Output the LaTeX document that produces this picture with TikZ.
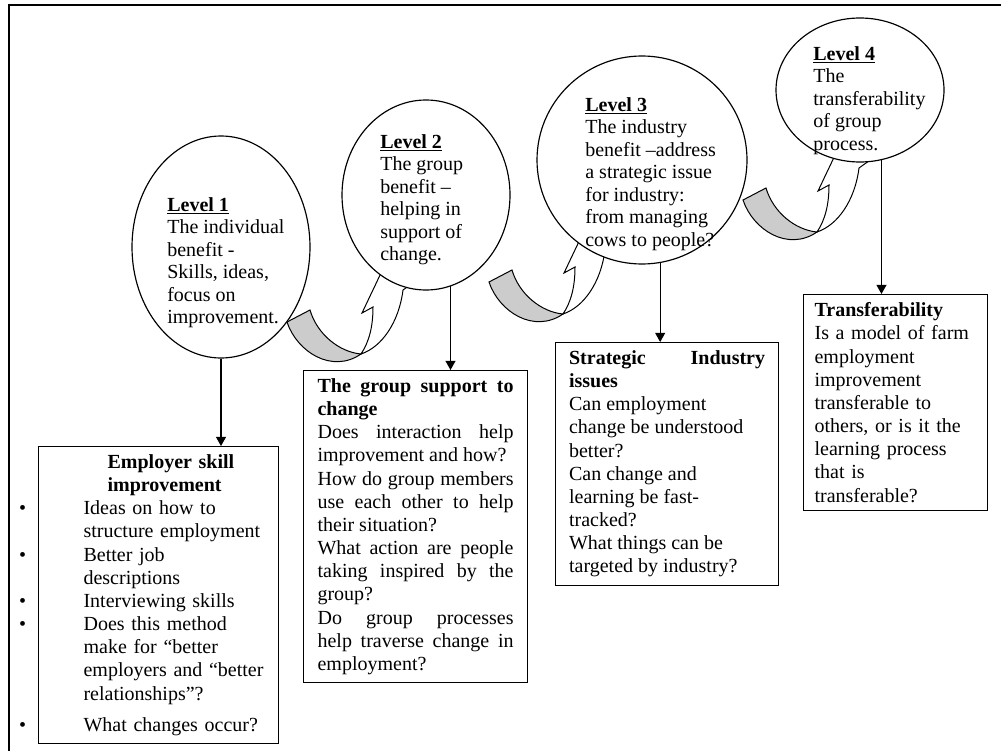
\documentclass[tikz,border=0pt]{standalone}
\usepackage{fontspec}
\setmainfont{Liberation Serif}
\usepackage{tikz}
\usetikzlibrary{arrows.meta,shapes.geometric}
\definecolor{BandGray}{HTML}{CCCCCC}
\newdimen\pxu \pxu=0.6pt
\newcommand{\bul}{\leavevmode\llap{\textbullet\hspace{57.5\pxu}}}
\newcommand{\bentarrow}[2]{%
  \begin{scope}[shift={(#1,#2)}]
    \path[backband] (0,0) .. controls (10,30) and (45,52) .. (74,32)
      .. controls (52,30) and (30,12) .. (23,-12) -- cycle;
    \path[frontband] (74,32) .. controls (82,20) and (86,5) .. (86,-15)
      -- (75,-9) -- (104,-70) -- (130,-42) -- (116,-32)
      .. controls (112,0) and (95,25) .. (74,32) -- cycle;
  \end{scope}}

\begin{document}
\begin{tikzpicture}[x=0.6pt, y=-0.6pt,
  lvl/.style={ellipse, draw, fill=white, line width=0.7pt, inner sep=0pt},
  lvltext/.style={anchor=north west, align=left, inner sep=0pt,
                  font=\fontsize{12}{13.5}\selectfont},
  qbox/.style={rectangle, draw, fill=white, line width=0.7pt, anchor=north west,
               inner ysep=8\pxu, font=\fontsize{12}{13.9}\selectfont,
               execute at begin node={\parindent=0pt}},
  downarrow/.style={line width=0.7pt, -{Triangle[width=6pt,length=5.5pt]}},
  backband/.style={draw, fill=BandGray, line width=0.6pt},
  frontband/.style={draw, fill=white, line width=0.6pt}
]
  \useasboundingbox (0,0) rectangle (1001,751);
  \draw[line width=1.2pt] (1001,5) -- (9,5) -- (9,751);

  \bentarrow{287}{322}
  \bentarrow{489}{282}
  \bentarrow{743}{200}

  \node[lvl, minimum width=178\pxu, minimum height=222\pxu] (l1) at (221,247) {};
  \node[lvl, minimum width=168\pxu, minimum height=190\pxu] (l2) at (426,195) {};
  \node[lvl, minimum width=210\pxu, minimum height=208\pxu] (l3) at (642,160) {};
  \node[lvl, minimum width=168\pxu, minimum height=144\pxu] (l4) at (860,90) {};

  \node[lvltext] (l1t) at (167,197) {\underline{\textbf{Level 1}}\\
    The individual\\ benefit -\\ Skills, ideas,\\ focus on\\ improvement.};
  \node[lvltext] (l2t) at (380,134) {\underline{\textbf{Level 2}}\\
    The group\\ benefit –\\ helping in\\ support of\\ change.};
  \node[lvltext] (l3t) at (585,97) {\underline{\textbf{Level 3}}\\
    The industry\\ benefit –address\\ a strategic issue\\ for industry:\\
    from managing\\ cows to people?};
  \node[lvltext] (l4t) at (813,46) {\underline{\textbf{Level 4}}\\
    The\\ transferability\\ of group\\ process.};

  \node[qbox, text width=232\pxu, inner xsep=4\pxu, align=left] (b1) at (38,446) {%
    \leftskip=41\pxu
    \hspace*{24\pxu}\textbf{Employer skill}\\
    \hspace*{24\pxu}\textbf{improvement}\\
    \bul Ideas on how to\\
    structure employment\\
    \bul Better job\\
    descriptions\\
    \bul Interviewing skills\\
    \bul Does this method\\
    make for “better\\
    employers and “better\\
    relationships”?\\[8\pxu]
    \bul What changes occur?\par};
  \node[qbox, text width=196\pxu, inner xsep=14\pxu, align=justify] (b2) at (303,370) {%
    \textbf{The group support to\linebreak change}\par
    Does interaction help\linebreak improvement and how?\par
    How do group members\linebreak use each other to help\linebreak their situation?\par
    What action are people\linebreak taking inspired by the\linebreak group?\par
    Do group processes\linebreak help traverse change in\linebreak employment?};
  \node[qbox, text width=196\pxu, inner xsep=13.5\pxu, align=justify] (b3) at (555,342) {%
    \textbf{Strategic Industry\linebreak issues}\par
    Can employment\par change be understood\par better?\par
    Can change and\par learning be fast-\par tracked?\par
    What things can be\par targeted by industry?};
  \node[qbox, text width=162\pxu, inner xsep=11\pxu, align=left] (b4) at (803,294) {%
    \textbf{Transferability}\\ Is a model of farm\\ employment\\ improvement\\
    transferable to\\ others, or is it the\\ learning process\\ that is\\ transferable?};

  \draw[downarrow] (l1.south) -- (l1.south |- b1.north);
  \draw[downarrow] (l2.-75) -- (l2.-75 |- b2.north);
  \draw[downarrow] (l3.-80) -- (l3.-80 |- b3.north);
  \draw[downarrow] (l4.-73) -- (l4.-73 |- b4.north);
\end{tikzpicture}
\end{document}
